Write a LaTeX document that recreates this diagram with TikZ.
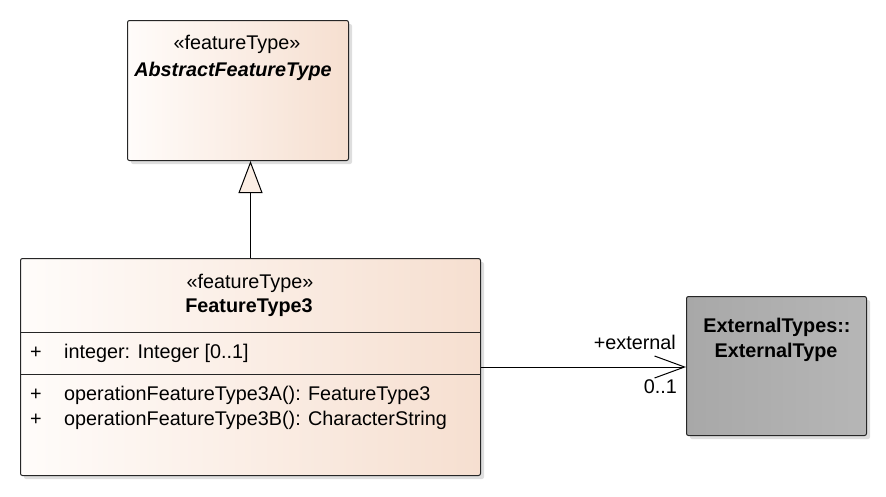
\documentclass[tikz,border=0pt]{standalone}
\usepackage{fontspec}
\setmainfont{Liberation Sans}
\usetikzlibrary{arrows.meta,calc}
\definecolor{peachL}{HTML}{FFFCFA}
\definecolor{peachM}{HTML}{FCF1EA}
\definecolor{peachR}{HTML}{F6DFD0}
\definecolor{grayL}{HTML}{A8A8A8}
\definecolor{grayM}{HTML}{C0C0C0}
\definecolor{grayR}{HTML}{B6B6B6}
\definecolor{shadowc}{HTML}{DEDEDE}
\definecolor{trifill}{HTML}{FBEEE4}
\tikzset{
  x=1pt, y=-1pt,
  txt/.style={inner sep=0pt, font=\fontsize{19.8}{22}\selectfont},
  boxbase/.style={draw=black!85, line width=1pt, rounded corners=2pt, anchor=north west, inner sep=0pt},
  classbox/.style={boxbase, left color=peachL, middle color=peachM, right color=peachR},
  extbox/.style={boxbase, left color=grayL, middle color=grayM, right color=grayR},
  shadowbox/.style={fill=shadowc, rounded corners=2pt, draw=none},
  sep/.style={draw=black!85, line width=1pt},
  conn/.style={draw=black, line width=1pt},
}
\begin{document}
\begin{tikzpicture}
\useasboundingbox (0,0) rectangle (886,496);
% shadows
\fill[shadowbox] (131,24) rectangle (352,164);
\fill[shadowbox] (24,262) rectangle (484,479);
\fill[shadowbox] (690,300) rectangle (870,439);
% boxes
\node[classbox, minimum width=221pt, minimum height=140pt] (abs) at (127,20) {};
\node[classbox, minimum width=460pt, minimum height=217pt] (ft) at (20,258) {};
\node[extbox, minimum width=180pt, minimum height=139pt] (ext) at (686,296) {};
% separators
\draw[sep] (ft.west |- 0,332) coordinate (s1a) -- (ft.east |- s1a);
\draw[sep] (ft.west |- 0,374) coordinate (s2a) -- (ft.east |- s2a);
% texts
\node[txt] (absst) at (237,44) {«featureType»};
\node[txt, font=\fontsize{19.8}{22}\selectfont\bfseries\itshape] (absnm) at (233,71) {AbstractFeatureType};
\node[txt] (ftst) at (250,283) {«featureType»};
\node[txt, font=\fontsize{19.8}{22}\selectfont\bfseries] (ftnm) at (249,308) {FeatureType3};
\node[txt] (p1) at (36,353) {+};
\node[txt, anchor=west] (a1) at (64,353) {integer: Integer [0..1]};
\node[txt] (p2) at (36,395) {+};
\node[txt, anchor=west] (o1) at (64,395) {operationFeatureType3A(): FeatureType3};
\node[txt] (p3) at (36,420) {+};
\node[txt, anchor=west] (o2) at (64,420) {operationFeatureType3B(): CharacterString};
\node[txt, font=\fontsize{19.8}{22}\selectfont\bfseries] (ext1) at (777,327) {ExternalTypes::};
\node[txt, font=\fontsize{19.8}{22}\selectfont\bfseries] (ext2) at (776,352) {ExternalType};
% connectors
\draw[conn, -{Triangle[length=32pt, width=24pt, fill=trifill, line width=1pt]}] (ft.north) -- (ft.north |- abs.south);
\draw[conn, -{Straight Barb[length=30pt, width=22pt, line width=1pt]}] (ft.east) -- (ft.east -| ext.west);
\node[txt, anchor=east] (role) at (676,342) {+external};
\node[txt, anchor=east] (mult) at (677,387) {0..1};
\end{tikzpicture}
\end{document}
